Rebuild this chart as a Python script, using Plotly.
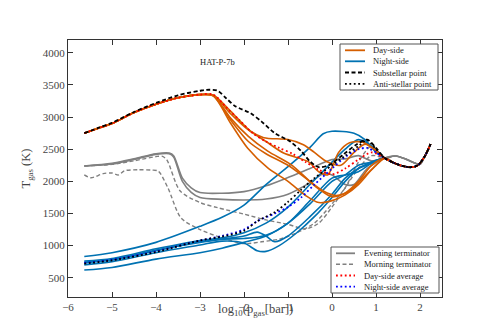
import plotly.graph_objects as go

# ---------------- data (log10 p [bar], T [K]) ----------------
DEEP_P = [1.4, 1.6, 1.8, 1.95, 2.1, 2.24]
DEEP_T = [2290, 2240, 2220, 2250, 2380, 2580]

GRAY_DEEP_P = [1.45, 1.7, 1.9, 2.0, 2.1, 2.24]
GRAY_DEEP_T = [2395, 2340, 2280, 2265, 2380, 2580]

DAY_RISE_P = [-5.63, -5.3, -5.0, -4.5, -4.0, -3.5, -3.0]
DAY_RISE_T = [2750, 2830, 2900, 3070, 3200, 3300, 3350]

day1_p = [-2.7, -2.3, -1.85, -1.55, -1.0, -0.65, -0.4, -0.1, 0.2, 0.5, 0.75, 1.0, 1.2]
day1_t = [3345, 3090, 2780, 2680, 2650, 2570, 2450, 2300, 2250, 2450, 2580, 2480, 2360]
day2_p = [-2.7, -2.3, -1.9, -1.5, -1.1, -0.55, -0.3, -0.1, 0.15, 0.4, 0.7, 1.0, 1.2]
day2_t = [3340, 3050, 2800, 2620, 2440, 2310, 2150, 2100, 2450, 2600, 2610, 2480, 2360]
day3_p = [-2.7, -2.3, -1.9, -1.46, -0.93, -0.5, -0.2, 0.1, 0.4, 0.7, 1.0, 1.2]
day3_t = [3335, 2980, 2700, 2470, 2260, 2000, 1850, 1780, 1850, 2050, 2250, 2360]
day4_p = [-2.7, -2.3, -1.92, -1.46, -1.0, -0.6, -0.3, 0.0, 0.3, 0.6, 0.9, 1.2]
day4_t = [3330, 2900, 2520, 2210, 2000, 1780, 1670, 1700, 1790, 1950, 2180, 2360]
day5_p = [-2.7, -2.3, -1.9, -1.5, -1.0, -0.6, -0.3, 0.0, 0.3, 0.6, 0.9, 1.2]
day5_t = [3330, 2950, 2620, 2430, 2250, 2050, 1880, 1760, 1820, 2000, 2250, 2360]

night1_p = [-5.63, -5.0, -4.0, -3.0, -2.5, -2.0, -1.5, -1.0, -0.5, -0.2, 0.0, 0.5, 0.75, 1.0, 1.2]
night1_t = [830, 890, 1050, 1300, 1440, 1630, 1950, 2230, 2530, 2740, 2780, 2750, 2650, 2450, 2360]
night2_p = [-5.63, -5.0, -4.0, -3.0, -2.5, -2.0, -1.5, -1.0, -0.5, 0.0, 0.3, 0.6, 0.9, 1.2]
night2_t = [760, 800, 950, 1080, 1120, 1200, 1350, 1600, 1950, 2300, 2500, 2650, 2550, 2360]
night3_p = [-5.63, -5.0, -4.0, -3.0, -2.5, -2.0, -1.7, -1.5, -1.3, -1.0, -0.5, 0.0, 0.3, 0.6, 0.9, 1.2]
night3_t = [730, 780, 930, 1050, 1100, 1150, 1210, 1150, 1060, 1150, 1450, 1800, 2050, 2200, 2280, 2360]
night4_p = [-5.63, -5.0, -4.0, -3.0, -2.5, -2.0, -1.7, -1.5, -1.2, -0.8, -0.4, 0.0, 0.3, 0.6, 0.9, 1.2]
night4_t = [700, 750, 890, 1010, 1070, 1040, 920, 910, 1000, 1200, 1450, 1750, 2000, 2200, 2300, 2360]
night5_p = [-5.63, -5.0, -4.0, -3.0, -2.5, -2.0, -1.5, -1.0, -0.5, 0.0, 0.3, 0.6, 0.9, 1.2]
night5_t = [620, 660, 790, 890, 960, 1050, 1150, 1350, 1650, 2000, 2100, 2250, 2300, 2360]
night6_p = [-5.63, -5.0, -4.0, -3.0, -2.5, -2.0, -1.5, -1.0, -0.5, 0.0, 0.3, 0.6, 0.9, 1.2]
night6_t = [745, 775, 920, 1060, 1100, 1110, 1160, 1350, 1700, 2050, 2100, 2150, 2280, 2360]

sub_p = [-5.63, -5.3, -5.0, -4.5, -4.0, -3.5, -3.0, -2.85, -2.6, -2.4, -2.2, -1.85, -1.6, -1.3,
         -0.95, -0.7, -0.5, -0.3, -0.05, 0.25, 0.55, 0.8, 1.0, 1.2]
sub_t = [2750, 2835, 2910, 3080, 3220, 3340, 3410, 3425, 3410, 3290, 3170, 3060, 2930, 2750,
         2620, 2470, 2310, 2220, 2260, 2415, 2570, 2650, 2520, 2364]

anti_p = [-5.63, -5.0, -4.0, -3.0, -2.5, -2.0, -1.7, -1.3, -1.0, -0.7, -0.4, 0.0, 0.3, 0.6, 0.8, 1.0, 1.2]
anti_t = [720, 770, 900, 1080, 1140, 1230, 1380, 1520, 1680, 1870, 2050, 2250, 2400, 2550, 2640, 2500, 2360]

dayavg_p = [-2.7, -2.4, -2.1, -1.8, -1.5, -1.2, -0.9, -0.6, -0.3, 0.0, 0.3, 0.6, 0.9, 1.2]
dayavg_t = [3350, 3150, 2950, 2750, 2620, 2520, 2430, 2300, 2180, 2110, 2200, 2340, 2450, 2360]

nightavg_p = [-5.63, -5.0, -4.0, -3.0, -2.5, -2.0, -1.7, -1.3, -1.0, -0.7, -0.4, 0.0, 0.3, 0.6, 0.8, 1.0, 1.2]
nightavg_t = [730, 780, 910, 1080, 1150, 1250, 1380, 1500, 1600, 1750, 1950, 2200, 2380, 2500, 2520, 2450, 2360]

eve1_p = [-5.63, -5.0, -4.5, -4.0, -3.7, -3.6, -3.4, -3.2, -3.0, -2.5, -2.0, -1.5, -1.0, -0.5, 0.0, 0.3, 0.6, 0.9, 1.2]
eve1_t = [2240, 2280, 2350, 2430, 2440, 2400, 2050, 1900, 1825, 1815, 1840, 1930, 2060, 2200, 2340, 2350, 2400, 2320, 2365]
eve2_p = [-5.63, -5.0, -4.5, -4.0, -3.7, -3.6, -3.4, -3.2, -3.0, -2.5, -2.0, -1.5, -1.0, -0.5, -0.2, 0.0, 0.3, 0.5, 0.8, 1.2]
eve2_t = [2240, 2270, 2340, 2420, 2430, 2380, 2000, 1830, 1750, 1720, 1710, 1725, 1800, 1980, 2120, 2100, 1950, 1950, 2200, 2365]

morn1_p = [-5.63, -5.0, -4.5, -4.0, -3.85, -3.75, -3.45, -3.0, -2.6, -2.0, -1.5, -1.0, -0.6, -0.3, 0.0, 0.3, 0.6, 0.9, 1.2]
morn1_t = [2240, 2265, 2320, 2385, 2390, 2330, 1850, 1670, 1590, 1490, 1400, 1330, 1260, 1350, 1600, 1900, 2200, 2400, 2365]
morn2_p = [-5.63, -5.48, -5.2, -5.0, -4.85, -4.72, -4.4, -4.1, -3.95, -3.73, -3.43, -3.0, -2.5, -2.0, -1.6,
           -1.2, -0.8, -0.4, 0.0, 0.3, 0.6, 0.9, 1.2]
morn2_t = [2100, 2055, 2120, 2130, 2100, 2165, 2180, 2175, 2160, 1900, 1430, 1250, 1120, 1030, 1060,
           1100, 1200, 1350, 1650, 1900, 2300, 2550, 2365]

LEGEND1_LABELS = ["Day-side", "Night-side", "Substellar point", "Anti-stellar point"]
LEGEND2_LABELS = ["Evening terminator", "Morning terminator", "Day-side average", "Night-side average"]

ORANGE = "#D55E00"
BLUE = "#0072B2"
GRAY = "#808080"
DASH = "4px,2.5px"
DOT = "1.8px,2.6px"

fig = go.Figure()


def add(x, y, color, dash="solid", width=1.6, name=None):
    fig.add_trace(go.Scatter(
        x=x, y=y, mode="lines", name=name, showlegend=False,
        line=dict(color=color, dash=dash, width=width, shape="spline", smoothing=0.8),
        hoverinfo="skip"))


# gray terminators
for p, t in [(eve1_p, eve1_t), (eve2_p, eve2_t)]:
    add(p + GRAY_DEEP_P, t + GRAY_DEEP_T, GRAY, "solid", 1.6, LEGEND2_LABELS[0])
for p, t in [(morn1_p, morn1_t), (morn2_p, morn2_t)]:
    add(p + GRAY_DEEP_P, t + GRAY_DEEP_T, GRAY, DASH, 1.4, LEGEND2_LABELS[1])

# night side
night = [(night1_p, night1_t), (night2_p, night2_t), (night3_p, night3_t),
         (night4_p, night4_t), (night5_p, night5_t), (night6_p, night6_t)]
for p, t in night:
    add(p + DEEP_P, t + DEEP_T, BLUE, "solid", 1.6, LEGEND1_LABELS[1])

# day side
day = [(day1_p, day1_t), (day2_p, day2_t), (day3_p, day3_t), (day4_p, day4_t), (day5_p, day5_t)]
for p, t in day:
    add(DAY_RISE_P + p + DEEP_P, DAY_RISE_T + t + DEEP_T, ORANGE, "solid", 1.6, LEGEND1_LABELS[0])

# averages
add(DAY_RISE_P + dayavg_p + DEEP_P, DAY_RISE_T + dayavg_t + DEEP_T, "red", DOT, 1.8, LEGEND2_LABELS[2])
add(nightavg_p + DEEP_P, nightavg_t + DEEP_T, "blue", DOT, 1.8, LEGEND2_LABELS[3])

# special points
add(sub_p + DEEP_P, sub_t + DEEP_T, "black", DASH, 1.8, LEGEND1_LABELS[2])
add(anti_p + DEEP_P, anti_t + DEEP_T, "black", DOT, 1.8, LEGEND1_LABELS[3])

# ---------------- layout ----------------
FONT = "Liberation Serif"
ML, MR, MT, MB = 60, 49, 32, 33
FW, FH = 483, 322
PW, PH = FW - ML - MR, FH - MT - MB


def px2x(px):
    return (px - ML) / PW


def py2y(py):
    return (FH - MB - py) / PH


shapes = []
annotations = [
    dict(x=-2.6, y=3850, xref="x", yref="y", text="HAT-P-7b", showarrow=False,
         font=dict(family=FONT, size=8.5, color="#222222")),
    dict(x=0.5, y=py2y(311), xref="paper", yref="paper", xanchor="center", yanchor="bottom",
         text="log<sub>10</sub>(p<sub>gas</sub>[bar])", showarrow=False, borderpad=0,
         font=dict(family=FONT, size=12.5, color="#444444")),
]


def make_legend(box, rows, sample_x, text_x, labels, styles):
    l, r, t, b = box
    shapes.append(dict(type="rect", xref="paper", yref="paper",
                       x0=px2x(l), x1=px2x(r), y0=py2y(b), y1=py2y(t),
                       line=dict(color="#555555", width=1), fillcolor="white", layer="above"))
    for yy, lab, (col, dash, w) in zip(rows, labels, styles):
        shapes.append(dict(type="line", xref="paper", yref="paper",
                           x0=px2x(sample_x[0]), x1=px2x(sample_x[1]),
                           y0=py2y(yy), y1=py2y(yy),
                           line=dict(color=col, dash=dash, width=w), layer="above"))
        annotations.append(dict(x=px2x(text_x), y=py2y(yy), xref="paper", yref="paper",
                                text=lab, showarrow=False, xanchor="left", yanchor="middle",
                                font=dict(family=FONT, size=8.5, color="#222222")))


make_legend((332, 430, 36, 82), [42.3, 53.3, 64.5, 75.8], (337, 357), 363,
            LEGEND1_LABELS,
            [(ORANGE, "solid", 1.8), (BLUE, "solid", 1.8), ("black", DASH, 1.8), ("black", DOT, 1.8)])
make_legend((323, 431, 239, 285), [245.3, 256.3, 267.5, 278.7], (328, 347), 354,
            LEGEND2_LABELS,
            [(GRAY, "solid", 1.8), (GRAY, DASH, 1.4), ("red", DOT, 1.8), ("blue", DOT, 1.8)])

axis_common = dict(
    showline=True, linecolor="#333333", linewidth=1, mirror="ticks",
    ticks="inside", ticklen=5, tickcolor="#333333", showgrid=False, zeroline=False,
    tickfont=dict(family=FONT, size=11, color="#444444"),
)

fig.update_layout(
    width=FW, height=FH,
    margin=dict(l=ML, r=MR, t=MT, b=MB),
    paper_bgcolor="white", plot_bgcolor="white",
    font=dict(family=FONT, color="#333333"),
    showlegend=False,
    xaxis=dict(range=[-6, 2.5], dtick=1, tick0=0, **axis_common),
    yaxis=dict(range=[200, 4200], tickvals=[500, 1000, 1500, 2000, 2500, 3000, 3500, 4000],
               title=dict(text="T<sub>gas</sub> (K)",
                          font=dict(family=FONT, size=12.5, color="#444444"), standoff=9),
               **axis_common),
    shapes=shapes,
    annotations=annotations,
)

fig.write_html("out.html")
